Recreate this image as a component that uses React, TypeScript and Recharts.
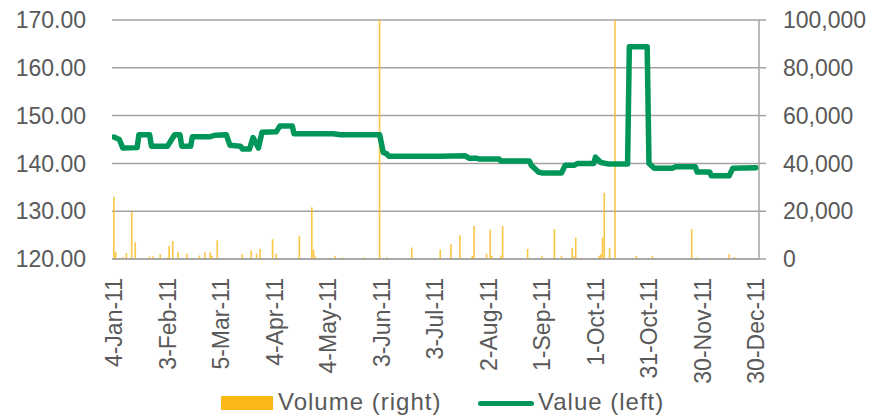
import { ComposedChart, Bar, Line, XAxis, YAxis, CartesianGrid, Legend } from 'recharts';

// Days counted from 4-Jan-11
const tickDays = [0, 30, 60, 90, 120, 150, 180, 210, 240, 270, 300, 330, 360];
const tickLabels = [
  '4-Jan-11', '3-Feb-11', '5-Mar-11', '4-Apr-11', '4-May-11', '3-Jun-11', '3-Jul-11',
  '2-Aug-11', '1-Sep-11', '1-Oct-11', '31-Oct-11', '30-Nov-11', '30-Dec-11',
];

const leftTicks = [120, 130, 140, 150, 160, 170];
const rightTicks = [0, 20000, 40000, 60000, 80000, 100000];

// Value (left axis), read at the turning points of the line
const valueDays = [
  0, 3, 5, 13, 14, 20, 21, 30, 34, 37, 38, 43, 44, 54, 57, 63, 65, 71, 72, 76, 78, 81, 83, 91,
  93, 100, 101, 123, 127, 145, 149, 151, 153, 154, 183, 197, 199, 203, 205, 216, 217, 233, 234,
  238, 240, 251, 253, 258, 260, 269, 270, 273, 277, 288, 289, 299, 300, 303, 313, 315, 326, 327,
  334, 335, 345, 347, 360,
];
const values = [
  145.5, 145.0, 143.2, 143.3, 146.0, 146.0, 143.6, 143.6, 146.0, 146.0, 143.6, 143.6, 145.6,
  145.6, 145.9, 146.0, 143.8, 143.6, 143.0, 143.0, 145.4, 143.2, 146.5, 146.6, 147.8, 147.8,
  146.2, 146.2, 146.0, 146.0, 146.0, 142.3, 142.0, 141.5, 141.5, 141.6, 141.1, 141.1, 140.9,
  140.9, 140.5, 140.5, 139.6, 138.2, 138.0, 138.0, 139.6, 139.6, 140.0, 140.0, 141.3, 140.2,
  139.9, 139.9, 164.4, 164.4, 140.0, 139.0, 139.0, 139.3, 139.3, 138.2, 138.2, 137.4, 137.4,
  139.0, 139.1,
];

// Volume (right axis)
const volumeDays = [
  0, 1, 5, 7, 10, 12, 20, 22, 26, 30, 31, 33, 36, 41, 48, 51, 54, 55, 58, 63, 72, 77, 80, 82,
  89, 91, 104, 111, 112, 113, 121, 124, 128, 140, 148, 149, 153, 161, 167, 176, 183, 189, 194,
  201, 202, 209, 211, 212, 217, 218, 232, 240, 247, 251, 257, 258, 259, 262, 272, 273, 274,
  275, 278, 281, 293, 302, 315, 324, 327, 335, 338, 345, 348, 358,
];
const volumes = [
  26000, 3000, 800, 2500, 19700, 7000, 1000, 1200, 2000, 600, 5400, 7500, 3000, 2200, 1500,
  2800, 2800, 1400, 7800, 500, 2000, 3600, 2200, 4200, 8300, 2200, 9700, 21700, 3900, 1000,
  500, 1400, 700, 700, 400, 100000, 700, 400, 4800, 500, 4000, 6300, 9900, 1400, 13800, 2200,
  12200, 1400, 1500, 13800, 4200, 1400, 12500, 1400, 4600, 1000, 8900, 500, 1400, 2000, 8900,
  27700, 4600, 100000, 1300, 1300, 500, 12600, 600, 500, 500, 2000, 800, 500,
];

type Row = { day: number; value?: number; volume?: number };
const rowMap = new Map<number, Row>();
valueDays.forEach((d, i) => rowMap.set(d, { ...(rowMap.get(d) || { day: d }), value: values[i] }));
volumeDays.forEach((d, i) => rowMap.set(d, { ...(rowMap.get(d) || { day: d }), volume: volumes[i] }));
const data = Array.from(rowMap.values()).sort((a, b) => a.day - b.day);

const FONT = '"Liberation Sans", Arial, sans-serif';
const TEXT = '#595959';
const GRID = '#A3A3A3';
const GREEN = '#00965A';
const GOLD = '#FBB817';

function DateTick(props: any) {
  const { x, y, payload } = props;
  const label = tickLabels[tickDays.indexOf(payload.value)];
  return (
    <text
      x={x}
      y={y}
      transform={`rotate(-90 ${x} ${y})`}
      textAnchor="end"
      dy="0.35em"
      fill={TEXT}
      fontSize={23}
      fontFamily={FONT}
    >
      {label}
    </text>
  );
}

function ChartLegend() {
  const text = {
    position: 'absolute' as const,
    top: 6,
    fontSize: 24,
    letterSpacing: 1,
    lineHeight: '25px',
    color: TEXT,
    fontFamily: FONT,
    whiteSpace: 'nowrap' as const,
  };
  return (
    <div style={{ position: 'relative', width: 874, height: 36 }}>
      <div style={{ position: 'absolute', left: 221, top: 13, width: 52, height: 14, background: GOLD }} />
      <div style={{ ...text, left: 278 }}>Volume (right)</div>
      <div style={{ position: 'absolute', left: 478, top: 18, width: 56, height: 5, borderRadius: 3, background: GREEN }} />
      <div style={{ ...text, left: 538 }}>Value (left)</div>
    </div>
  );
}

export default function App() {
  return (
    <div style={{ position: 'absolute', left: 0, top: 0, width: 874, height: 419, background: '#fff' }}>
      <ComposedChart width={874} height={419} data={data} margin={{ top: 20, right: 0, bottom: 0, left: 0 }}>
        <CartesianGrid yAxisId="left" vertical={false} stroke={GRID} strokeWidth={1.5} />
        <XAxis
          dataKey="day"
          type="number"
          domain={[-1.1, 361.7]}
          ticks={tickDays}
          interval={0}
          allowDataOverflow
          tick={<DateTick />}
          tickLine={false}
          tickSize={0}
          tickMargin={19}
          height={124}
          axisLine={{ stroke: GRID, strokeWidth: 1.5 }}
        />
        <YAxis
          yAxisId="left"
          orientation="left"
          width={112}
          domain={[120, 170]}
          ticks={leftTicks}
          tickFormatter={(v: number) => v.toFixed(2)}
          axisLine={false}
          tickLine={false}
          tickSize={0}
          tickMargin={26}
          tick={{ fill: TEXT, fontSize: 23, fontFamily: FONT }}
        />
        <YAxis
          yAxisId="right"
          orientation="right"
          width={115}
          domain={[0, 100000]}
          ticks={rightTicks}
          tickFormatter={(v: number) => v.toLocaleString('en-US')}
          axisLine={{ stroke: GRID, strokeWidth: 1.5 }}
          tickLine={{ stroke: GRID, strokeWidth: 1.5 }}
          tickSize={7}
          tickMargin={17}
          tick={{ fill: TEXT, fontSize: 23, fontFamily: FONT }}
        />
        <Legend verticalAlign="bottom" height={36} content={() => <ChartLegend />} />
        <Bar
          yAxisId="right"
          dataKey="volume"
          name="Volume (right)"
          fill={GOLD}
          fillOpacity={0.8}
          barSize={2}
          isAnimationActive={false}
        />
        <Line
          yAxisId="left"
          dataKey="value"
          name="Value (left)"
          type="linear"
          stroke={GREEN}
          strokeWidth={5.5}
          strokeLinejoin="round"
          strokeLinecap="round"
          dot={false}
          connectNulls
          isAnimationActive={false}
        />
      </ComposedChart>
    </div>
  );
}
